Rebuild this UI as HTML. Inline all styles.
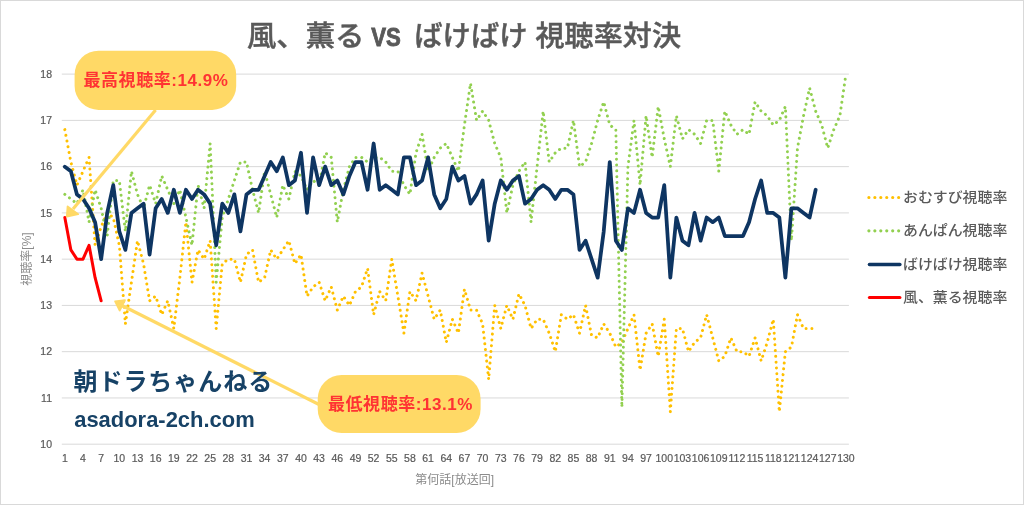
<!DOCTYPE html>
<html lang="ja"><head><meta charset="utf-8"><title>風、薫る VS ばけばけ 視聴率対決</title>
<style>
html,body{margin:0;padding:0;background:#fff;}
body{width:1024px;height:505px;overflow:hidden;}
svg{display:block;}
.ax{font-family:"Liberation Sans",sans-serif;font-size:10.5px;fill:#595959;stroke:#595959;stroke-width:0.2px;}
.at{font-family:"Liberation Sans", "Noto Sans CJK JP", sans-serif;font-size:12px;fill:#8c8c8c;}
.lg{font-family:"Liberation Sans", "Noto Sans CJK JP", sans-serif;font-size:14.2px;font-weight:500;fill:#595959;}
.co{font-family:"Liberation Sans", "Noto Sans CJK JP", sans-serif;font-size:17px;font-weight:bold;fill:#ff3333;letter-spacing:0.56px;}
.wm1{font-family:"Liberation Sans", "Noto Sans CJK JP", sans-serif;font-size:24px;font-weight:bold;fill:#174266;letter-spacing:0.95px;}
.wm2{font-family:"Liberation Sans", "Noto Sans CJK JP", sans-serif;font-size:22px;font-weight:bold;fill:#174266;}
.tt{font-family:"Liberation Sans", "Noto Sans CJK JP", sans-serif;font-size:28px;font-weight:500;fill:#595959;stroke:#595959;stroke-width:0.45px;}
</style></head>
<body><svg width="1024" height="505" viewBox="0 0 1024 505">
<rect x="0.5" y="0.5" width="1023" height="504" fill="#fff" stroke="#d9d9d9" stroke-width="1"/>
<line x1="61.8" y1="444.20" x2="848.9" y2="444.20" stroke="#d9d9d9" stroke-width="1"/>
<line x1="61.8" y1="397.94" x2="848.9" y2="397.94" stroke="#d9d9d9" stroke-width="1"/>
<line x1="61.8" y1="351.68" x2="848.9" y2="351.68" stroke="#d9d9d9" stroke-width="1"/>
<line x1="61.8" y1="305.42" x2="848.9" y2="305.42" stroke="#d9d9d9" stroke-width="1"/>
<line x1="61.8" y1="259.16" x2="848.9" y2="259.16" stroke="#d9d9d9" stroke-width="1"/>
<line x1="61.8" y1="212.90" x2="848.9" y2="212.90" stroke="#d9d9d9" stroke-width="1"/>
<line x1="61.8" y1="166.64" x2="848.9" y2="166.64" stroke="#d9d9d9" stroke-width="1"/>
<line x1="61.8" y1="120.38" x2="848.9" y2="120.38" stroke="#d9d9d9" stroke-width="1"/>
<line x1="61.8" y1="74.12" x2="848.9" y2="74.12" stroke="#d9d9d9" stroke-width="1"/>
<text x="52" y="448.00" text-anchor="end" class="ax">10</text>
<text x="52" y="401.74" text-anchor="end" class="ax">11</text>
<text x="52" y="355.48" text-anchor="end" class="ax">12</text>
<text x="52" y="309.22" text-anchor="end" class="ax">13</text>
<text x="52" y="262.96" text-anchor="end" class="ax">14</text>
<text x="52" y="216.70" text-anchor="end" class="ax">15</text>
<text x="52" y="170.44" text-anchor="end" class="ax">16</text>
<text x="52" y="124.18" text-anchor="end" class="ax">17</text>
<text x="52" y="77.92" text-anchor="end" class="ax">18</text>
<text x="64.83" y="462.20" text-anchor="middle" class="ax">1</text>
<text x="82.99" y="462.20" text-anchor="middle" class="ax">4</text>
<text x="101.16" y="462.20" text-anchor="middle" class="ax">7</text>
<text x="119.32" y="462.20" text-anchor="middle" class="ax">10</text>
<text x="137.49" y="462.20" text-anchor="middle" class="ax">13</text>
<text x="155.65" y="462.20" text-anchor="middle" class="ax">16</text>
<text x="173.82" y="462.20" text-anchor="middle" class="ax">19</text>
<text x="191.98" y="462.20" text-anchor="middle" class="ax">22</text>
<text x="210.15" y="462.20" text-anchor="middle" class="ax">25</text>
<text x="228.31" y="462.20" text-anchor="middle" class="ax">28</text>
<text x="246.48" y="462.20" text-anchor="middle" class="ax">31</text>
<text x="264.64" y="462.20" text-anchor="middle" class="ax">34</text>
<text x="282.81" y="462.20" text-anchor="middle" class="ax">37</text>
<text x="300.97" y="462.20" text-anchor="middle" class="ax">40</text>
<text x="319.14" y="462.20" text-anchor="middle" class="ax">43</text>
<text x="337.30" y="462.20" text-anchor="middle" class="ax">46</text>
<text x="355.47" y="462.20" text-anchor="middle" class="ax">49</text>
<text x="373.63" y="462.20" text-anchor="middle" class="ax">52</text>
<text x="391.80" y="462.20" text-anchor="middle" class="ax">55</text>
<text x="409.96" y="462.20" text-anchor="middle" class="ax">58</text>
<text x="428.13" y="462.20" text-anchor="middle" class="ax">61</text>
<text x="446.29" y="462.20" text-anchor="middle" class="ax">64</text>
<text x="464.46" y="462.20" text-anchor="middle" class="ax">67</text>
<text x="482.62" y="462.20" text-anchor="middle" class="ax">70</text>
<text x="500.79" y="462.20" text-anchor="middle" class="ax">73</text>
<text x="518.95" y="462.20" text-anchor="middle" class="ax">76</text>
<text x="537.12" y="462.20" text-anchor="middle" class="ax">79</text>
<text x="555.28" y="462.20" text-anchor="middle" class="ax">82</text>
<text x="573.45" y="462.20" text-anchor="middle" class="ax">85</text>
<text x="591.61" y="462.20" text-anchor="middle" class="ax">88</text>
<text x="609.78" y="462.20" text-anchor="middle" class="ax">91</text>
<text x="627.94" y="462.20" text-anchor="middle" class="ax">94</text>
<text x="646.11" y="462.20" text-anchor="middle" class="ax">97</text>
<text x="664.27" y="462.20" text-anchor="middle" class="ax">100</text>
<text x="682.44" y="462.20" text-anchor="middle" class="ax">103</text>
<text x="700.60" y="462.20" text-anchor="middle" class="ax">106</text>
<text x="718.77" y="462.20" text-anchor="middle" class="ax">109</text>
<text x="736.93" y="462.20" text-anchor="middle" class="ax">112</text>
<text x="755.10" y="462.20" text-anchor="middle" class="ax">115</text>
<text x="773.26" y="462.20" text-anchor="middle" class="ax">118</text>
<text x="791.43" y="462.20" text-anchor="middle" class="ax">121</text>
<text x="809.59" y="462.20" text-anchor="middle" class="ax">124</text>
<text x="827.76" y="462.20" text-anchor="middle" class="ax">127</text>
<text x="845.92" y="462.20" text-anchor="middle" class="ax">130</text>
<text x="454.7" y="483.5" text-anchor="middle" class="at">第何話[放送回]</text>
<text transform="translate(31,259) rotate(-90)" text-anchor="middle" class="at">視聴率[%]</text>
<polyline points="64.83,129.63 70.88,162.01 76.94,185.14 82.99,171.27 89.05,157.39 95.10,245.28 101.16,226.78 107.21,212.90 113.27,217.53 119.32,245.28 125.38,323.92 131.43,282.29 137.49,240.66 143.54,263.79 149.60,300.79 155.65,296.17 161.71,314.67 167.76,300.79 173.82,328.55 179.87,277.66 185.93,222.15 191.98,282.29 198.04,249.91 204.09,259.16 210.15,240.66 216.20,328.55 222.26,263.79 228.31,259.16 234.37,259.16 240.42,282.29 246.48,254.53 252.53,249.91 258.59,282.29 264.64,277.66 270.70,249.91 276.75,259.16 282.81,249.91 288.86,240.66 294.92,263.79 300.97,254.53 307.03,296.17 313.08,286.92 319.14,282.29 325.19,300.79 331.25,286.92 337.30,310.05 343.36,296.17 349.41,305.42 355.47,291.54 361.52,286.92 367.58,268.41 373.63,314.67 379.69,291.54 385.74,300.79 391.80,259.16 397.85,296.17 403.91,333.18 409.96,291.54 416.02,300.79 422.07,273.04 428.13,296.17 434.18,319.30 440.24,310.05 446.29,342.43 452.35,319.30 458.40,333.18 464.46,289.23 470.51,310.05 476.57,310.05 482.62,323.92 488.68,379.44 494.73,305.42 500.79,328.55 506.84,305.42 512.90,319.30 518.95,293.86 525.01,305.42 531.06,328.55 537.12,319.30 543.17,319.30 549.23,333.18 555.28,351.68 561.34,314.67 567.39,319.30 573.45,314.67 579.50,333.18 585.56,305.42 591.61,335.49 597.67,337.80 603.72,323.92 609.78,333.18 615.83,347.05 621.89,342.43 627.94,328.55 634.00,314.67 640.05,370.18 646.11,333.18 652.16,323.92 658.22,356.31 664.27,319.30 670.33,411.82 676.38,328.55 682.44,328.55 688.49,351.68 694.55,342.43 700.60,337.80 706.66,314.67 712.71,337.80 718.77,360.93 724.82,356.31 730.88,337.80 736.93,351.68 742.99,351.68 749.04,356.31 755.10,337.80 761.15,360.93 767.21,342.43 773.26,319.30 779.32,411.82 785.37,351.68 791.43,347.05 797.48,314.67 803.54,328.55 809.59,328.55 815.65,328.55" fill="none" stroke="#ffc000" stroke-width="3" stroke-dasharray="0.01 5.8" stroke-linecap="round" stroke-linejoin="round"/>
<polyline points="64.83,194.40 70.88,199.02 76.94,203.65 82.99,189.77 89.05,222.15 95.10,189.77 101.16,208.27 107.21,236.03 113.27,180.52 119.32,180.52 125.38,231.40 131.43,171.27 137.49,194.40 143.54,208.27 149.60,185.14 155.65,203.65 161.71,175.89 167.76,189.77 173.82,203.65 179.87,189.77 185.93,217.53 191.98,245.28 198.04,185.14 204.09,208.27 210.15,143.51 216.20,282.29 222.26,217.53 228.31,199.02 234.37,180.52 240.42,162.01 246.48,162.01 252.53,189.77 258.59,212.90 264.64,171.27 270.70,194.40 276.75,217.53 282.81,185.14 288.86,199.02 294.92,171.27 300.97,175.89 307.03,189.77 313.08,180.52 319.14,185.14 325.19,152.76 331.25,157.39 337.30,222.15 343.36,189.77 349.41,166.64 355.47,157.39 361.52,157.39 367.58,162.01 373.63,157.39 379.69,157.39 385.74,162.01 391.80,171.27 397.85,171.27 403.91,185.14 409.96,194.40 416.02,152.76 422.07,134.26 428.13,171.27 434.18,157.39 440.24,148.14 446.29,143.51 452.35,157.39 458.40,171.27 464.46,125.01 470.51,83.37 476.57,120.38 482.62,111.13 488.68,120.38 494.73,143.51 500.79,157.39 506.84,212.90 512.90,185.14 518.95,171.27 525.01,162.01 531.06,222.15 537.12,166.64 543.17,111.13 549.23,162.01 555.28,152.76 561.34,148.14 567.39,148.14 573.45,120.38 579.50,166.64 585.56,162.01 591.61,143.51 597.67,120.38 603.72,101.88 609.78,125.01 615.83,129.63 621.89,407.19 627.94,166.64 634.00,120.38 640.05,185.14 646.11,115.75 652.16,157.39 658.22,106.50 664.27,138.88 670.33,166.64 676.38,115.75 682.44,138.88 688.49,129.63 694.55,134.26 700.60,143.51 706.66,120.38 712.71,120.38 718.77,171.27 724.82,111.13 730.88,125.01 736.93,134.26 742.99,129.63 749.04,134.26 755.10,101.88 761.15,111.13 767.21,115.75 773.26,125.01 779.32,120.38 785.37,106.50 791.43,240.66 797.48,148.14 803.54,115.75 809.59,88.00 815.65,111.13 821.70,125.01 827.76,148.14 833.81,129.63 839.87,115.75 845.92,74.12" fill="none" stroke="#92d050" stroke-width="3" stroke-dasharray="0.01 5.8" stroke-linecap="round" stroke-linejoin="round"/>
<polyline points="64.83,166.64 70.88,171.27 76.94,194.40 82.99,199.02 89.05,208.27 95.10,222.15 101.16,259.16 107.21,212.90 113.27,185.14 119.32,231.40 125.38,249.91 131.43,212.90 137.49,208.27 143.54,203.65 149.60,254.53 155.65,208.27 161.71,199.02 167.76,212.90 173.82,189.77 179.87,212.90 185.93,189.77 191.98,199.02 198.04,189.77 204.09,194.40 210.15,203.65 216.20,245.28 222.26,203.65 228.31,212.90 234.37,194.40 240.42,231.40 246.48,194.40 252.53,189.77 258.59,189.77 264.64,175.89 270.70,162.01 276.75,171.27 282.81,157.39 288.86,185.14 294.92,180.52 300.97,152.76 307.03,212.90 313.08,157.39 319.14,185.14 325.19,166.64 331.25,185.14 337.30,180.52 343.36,194.40 349.41,175.89 355.47,162.01 361.52,162.01 367.58,189.77 373.63,143.51 379.69,189.77 385.74,185.14 391.80,189.77 397.85,194.40 403.91,157.39 409.96,157.39 416.02,185.14 422.07,180.52 428.13,157.39 434.18,194.40 440.24,208.27 446.29,199.02 452.35,166.64 458.40,180.52 464.46,175.89 470.51,203.65 476.57,194.40 482.62,180.52 488.68,240.66 494.73,203.65 500.79,180.52 506.84,189.77 512.90,180.52 518.95,175.89 525.01,203.65 531.06,199.02 537.12,189.77 543.17,185.14 549.23,189.77 555.28,199.02 561.34,189.77 567.39,189.77 573.45,194.40 579.50,249.91 585.56,240.66 591.61,259.16 597.67,277.66 603.72,231.40 609.78,162.01 615.83,240.66 621.89,249.91 627.94,208.27 634.00,212.90 640.05,189.77 646.11,212.90 652.16,217.53 658.22,217.53 664.27,185.14 670.33,277.66 676.38,217.53 682.44,240.66 688.49,245.28 694.55,212.90 700.60,240.66 706.66,217.53 712.71,222.15 718.77,217.53 724.82,236.03 730.88,236.03 736.93,236.03 742.99,236.03 749.04,222.15 755.10,199.02 761.15,180.52 767.21,212.90 773.26,212.90 779.32,217.53 785.37,277.66 791.43,208.27 797.48,208.27 803.54,212.90 809.59,217.53 815.65,189.77" fill="none" stroke="#0e3562" stroke-width="3.75" stroke-linejoin="round" stroke-linecap="round"/>
<polyline points="64.83,217.53 70.88,249.91 76.94,259.16 82.99,259.16 89.05,245.28 95.10,277.66 101.16,300.79" fill="none" stroke="#ff0000" stroke-width="3" stroke-linejoin="round" stroke-linecap="round"/>
<line x1="868.9" y1="197.5" x2="899.2" y2="197.5" stroke="#ffc000" stroke-width="3.2" stroke-dasharray="0.01 5.94" stroke-linecap="round" stroke-linejoin="round"/>
<text x="903.0" y="201.5" class="lg" textLength="104.3" lengthAdjust="spacingAndGlyphs">おむすび視聴率</text>
<line x1="868.9" y1="230.8" x2="899.2" y2="230.8" stroke="#92d050" stroke-width="3.2" stroke-dasharray="0.01 5.94" stroke-linecap="round" stroke-linejoin="round"/>
<text x="903.0" y="234.8" class="lg" textLength="104.3" lengthAdjust="spacingAndGlyphs">あんぱん視聴率</text>
<line x1="869.4" y1="264.5" x2="899.9" y2="264.5" stroke="#0e3562" stroke-width="3.4" stroke-linecap="round"/>
<text x="903.0" y="268.5" class="lg" textLength="104.3" lengthAdjust="spacingAndGlyphs">ばけばけ視聴率</text>
<line x1="869.4" y1="297.5" x2="899.9" y2="297.5" stroke="#ff0000" stroke-width="3.1" stroke-linecap="round"/>
<text x="903.0" y="301.5" class="lg" textLength="104.3" lengthAdjust="spacingAndGlyphs">風、薫る視聴率</text>
<line x1="155.6" y1="110" x2="73" y2="209" stroke="#ffd966" stroke-width="3.2"/>
<polygon points="66.8,216.6 67.6,206.4 78.2,214.2" fill="#ffd966" stroke="#ffd966" stroke-width="1.8" stroke-linejoin="round"/>
<rect x="74.6" y="50.7" width="161.6" height="59.2" rx="24" ry="24" fill="#ffd966"/>
<text x="156.0" y="85.8" text-anchor="middle" class="co">最高視聴率:14.9%</text>
<line x1="320" y1="405" x2="122" y2="305.5" stroke="#ffd966" stroke-width="3.2"/>
<polygon points="115.1,301.4 125.0,300.1 119.7,310.5" fill="#ffd966" stroke="#ffd966" stroke-width="1.8" stroke-linejoin="round"/>
<rect x="317.7" y="374.9" width="162.9" height="58.2" rx="24" ry="24" fill="#ffd966"/>
<text x="400.5" y="409.8" text-anchor="middle" class="co">最低視聴率:13.1%</text>
<text x="73.5" y="390.3" class="wm1">朝ドラちゃんねる</text>
<text x="74.2" y="426.6" class="wm2" textLength="180.5" lengthAdjust="spacingAndGlyphs">asadora-2ch.com</text>
<text y="45.5" class="tt"><tspan x="247.0" textLength="117.5" lengthAdjust="spacingAndGlyphs" style="font-size:28px">風、薫る</tspan><tspan x="371.2" textLength="29.6" lengthAdjust="spacingAndGlyphs" style="font-size:26.5px;font-weight:bold;stroke-width:0.9">VS</tspan><tspan x="414.3" textLength="113.2" lengthAdjust="spacingAndGlyphs" style="font-size:28px">ばけばけ</tspan><tspan x="535.5" textLength="145.5" lengthAdjust="spacingAndGlyphs" style="font-size:28px">視聴率対決</tspan></text>
</svg></body></html>
